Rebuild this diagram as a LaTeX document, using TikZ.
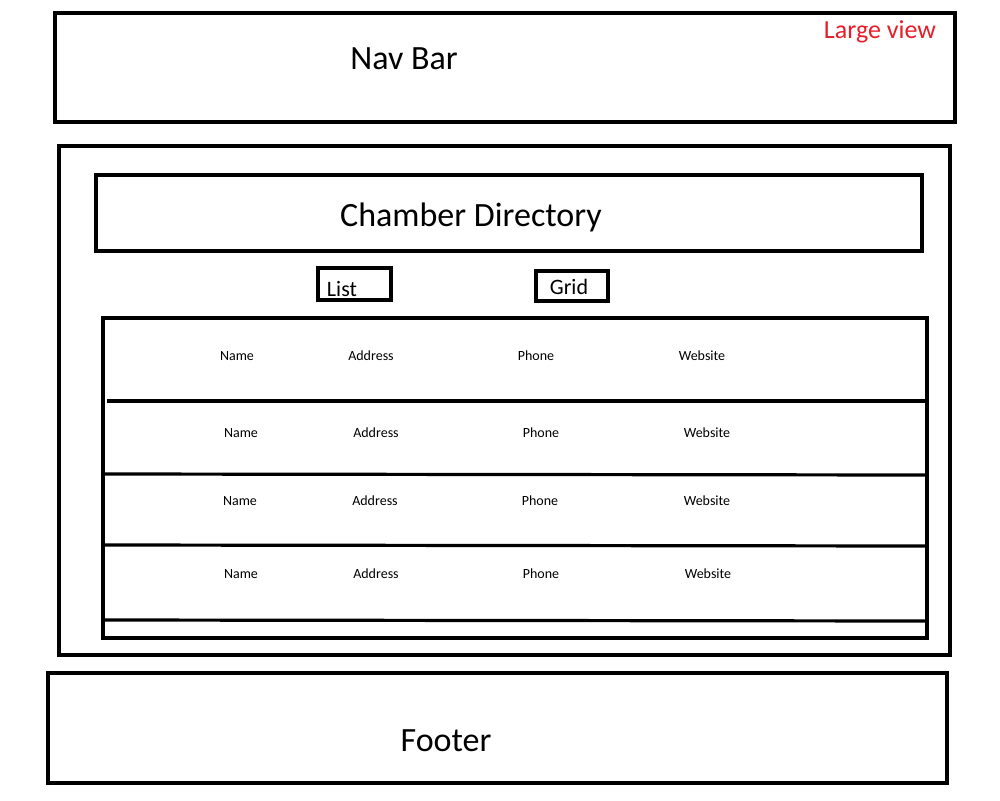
\documentclass[tikz,border=0pt]{standalone}
\usepackage{fontspec}
\setmainfont{Carlito}
\definecolor{redlabel}{RGB}{230,30,40}
\tikzset{
  frame/.style={draw=black, line width=4pt},
  rowline/.style={draw=black, line width=3.2pt},
  big/.style={font=\fontsize{34}{40}\selectfont, anchor=base, inner sep=0pt},
  btn/.style={font=\fontsize{22}{26}\selectfont, anchor=base, inner sep=0pt},
  cell/.style={font=\fontsize{14}{17}\selectfont, anchor=base, inner sep=0pt},
  note/.style={font=\fontsize{26}{30}\selectfont, text=redlabel, anchor=base, inner sep=0pt}
}
\begin{document}
\begin{tikzpicture}[x=1pt,y=-1pt]
\useasboundingbox[fill=white] (0,0) rectangle (1000,800);
% boxes
\draw[frame] (55,13) rectangle (955,122);
\draw[frame] (59,146) rectangle (950,655);
\draw[frame] (96,175) rectangle (922,251);
\draw[frame] (318,268) rectangle (391,300);
\draw[frame] (536,271) rectangle (608,301);
\draw[frame] (103,318) rectangle (927,638);
\draw[frame] (48,673) rectangle (947,783);
% row separators
\draw[rowline] (107,401) -- (925,401);
\draw[rowline] (105,474) -- (925,475);
\draw[rowline] (105,545) -- (925,546);
\draw[rowline] (105,620) -- (925,621);
% texts
\node[big] (nav) at (404,69) {Nav Bar};
\node[note] (lv) at (880,38) {Large view};
\node[big] (cd) at (471,226) {Chamber Directory};
\node[btn] (list) at (342,296) {List};
\node[btn] (grid) at (569,294) {Grid};
\node[big] (foot) at (446,751) {Footer};
% rows
\node[cell] (n1) at (237,360) {Name};
\node[cell] (a1) at (371,360) {Address};
\node[cell] (p1) at (536,360) {Phone};
\node[cell] (w1) at (702,360) {Website};
\node[cell] (n2) at (241,437) {Name};
\node[cell] (a2) at (376,437) {Address};
\node[cell] (p2) at (541,437) {Phone};
\node[cell] (w2) at (707,437) {Website};
\node[cell] (n3) at (240,505) {Name};
\node[cell] (a3) at (375,505) {Address};
\node[cell] (p3) at (540,505) {Phone};
\node[cell] (w3) at (707,505) {Website};
\node[cell] (n4) at (241,578) {Name};
\node[cell] (a4) at (376,578) {Address};
\node[cell] (p4) at (541,578) {Phone};
\node[cell] (w4) at (708,578) {Website};
\end{tikzpicture}
\end{document}
